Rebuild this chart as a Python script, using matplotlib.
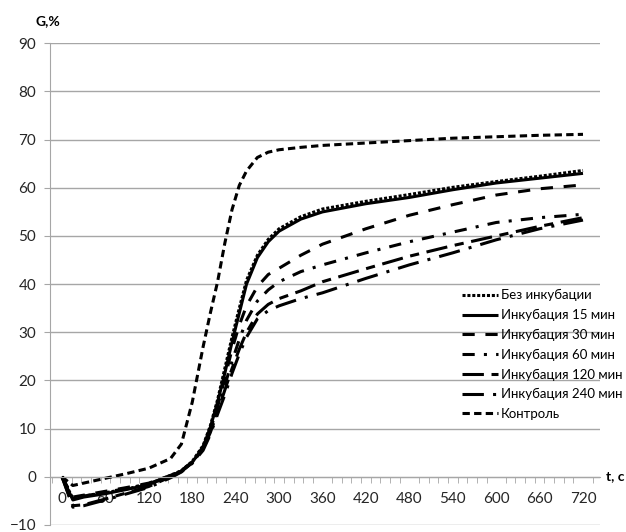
import matplotlib
matplotlib.use('Agg')
import matplotlib.pyplot as plt
from matplotlib.ticker import MultipleLocator

plt.rcParams['font.family'] = ['Lato', 'DejaVu Sans']

# time, s
t = [0, 15, 30, 60, 90, 120, 150, 165, 180, 195, 205, 215, 225, 235, 245, 255, 270,
     285, 300, 330, 360, 420, 480, 540, 600, 660, 720]

bez = [0, -4.5, -4.0, -3.3, -2.5, -1.5, 0.3, 1.3, 3.2, 6.5, 10.6, 16.0, 22.5, 29.0, 35.0,
       40.8, 46.0, 49.3, 51.5, 54.0, 55.6, 57.2, 58.6, 60.1, 61.3, 62.4, 63.6]
inc15 = [0, -4.8, -4.2, -3.5, -2.6, -1.6, 0.2, 1.2, 3.0, 6.2, 10.3, 15.5, 21.5, 28.0, 34.0,
         40.0, 45.5, 48.8, 51.0, 53.5, 55.0, 56.7, 58.0, 59.6, 61.0, 62.0, 63.0]
inc30 = [0, -4.2, -3.8, -3.0, -2.2, -1.3, 0.3, 1.3, 3.1, 6.2, 9.8, 14.5, 20.5, 26.5, 31.5,
         35.5, 39.5, 42.0, 43.3, 46.0, 48.3, 51.5, 54.3, 56.5, 58.5, 59.8, 60.6]
inc60 = [0, -4.5, -4.0, -3.2, -2.4, -1.4, 0.2, 1.2, 3.0, 6.0, 9.5, 14.0, 19.0, 24.0, 28.5,
         32.5, 36.5, 38.8, 40.5, 42.6, 44.0, 46.5, 48.8, 50.8, 52.8, 53.8, 54.5]
inc120 = [0, -6.0, -5.8, -4.6, -3.3, -2.0, 0.0, 1.1, 2.9, 5.8, 9.2, 13.5, 18.0, 22.5, 26.5,
          30.0, 33.8, 35.8, 37.0, 38.6, 40.5, 43.2, 45.8, 48.0, 50.0, 52.0, 53.8]
inc240 = [0, -6.3, -6.0, -4.8, -3.5, -2.2, -0.2, 1.0, 2.8, 5.5, 8.8, 13.0, 17.0, 21.5, 25.5,
          29.0, 32.8, 34.5, 35.5, 37.0, 38.2, 41.2, 44.0, 46.5, 49.2, 51.5, 53.3]
control = [0, -1.8, -1.3, -0.3, 0.7, 1.8, 3.8, 6.8, 15.5, 27.0, 34.0, 40.5, 48.5, 55.5, 60.5,
           63.5, 66.3, 67.4, 67.9, 68.4, 68.8, 69.3, 69.8, 70.3, 70.6, 70.9, 71.1]

labels = ['Без инкубации', 'Инкубация 15 мин', 'Инкубация 30 мин', 'Инкубация 60 мин',
          'Инкубация 120 мин', 'Инкубация 240 мин', 'Контроль']
series = [bez, inc15, inc30, inc60, inc120, inc240, control]
styles = [(0, (1, 0.6)),
          '-',
          (0, (4, 3.5)),
          (0, (4, 3, 1, 3)),
          (0, (7, 2.5, 3, 2.5)),
          (0, (7, 3, 1, 3)),
          (0, (2.4, 1.4))]

fig = plt.figure(figsize=(6.26, 5.32), dpi=100)
ax = fig.add_axes([50 / 626, 1 - 525 / 532, 550 / 626, (525 - 43.3) / 532])

for y, lab, ls in zip(series, labels, styles):
    ax.plot(t, y, color='black', lw=2.2, linestyle=ls, label=lab,
            dash_capstyle='butt', solid_capstyle='butt')

ax.set_xlim(-16.6, 743.5)
ax.set_ylim(-10, 90)
ax.yaxis.set_major_locator(MultipleLocator(10))
ax.xaxis.set_major_locator(MultipleLocator(60))
ax.xaxis.set_minor_locator(MultipleLocator(40 / 3))
ax.grid(axis='y', color='#a6a6a6', lw=1)
ax.set_axisbelow(True)

for s in ['top', 'right']:
    ax.spines[s].set_visible(False)
ax.spines['left'].set_color('#a6a6a6')
ax.spines['bottom'].set_color('#a6a6a6')
ax.spines['bottom'].set_position(('data', 0))

ax.tick_params(axis='y', length=4, color='#a6a6a6', pad=6, labelsize=11, labelcolor='#262626')
ax.tick_params(axis='x', which='major', length=0, pad=11, labelsize=11, labelcolor='#262626')
ax.tick_params(axis='x', which='minor', length=4, color='#a6a6a6', direction='out')

fig.text(35 / 626, 1 - 21 / 532, 'G,%', fontsize=10, fontweight='bold', va='center', ha='left')
fig.text(606 / 626, 1 - 476 / 532, 't, c', fontsize=10, fontweight='bold', va='center', ha='left')

ax.legend(loc='upper left', bbox_to_anchor=(457 / 626, 1 - 284 / 532),
          bbox_transform=fig.transFigure, frameon=False, fontsize=9.5,
          handlelength=2.7, handletextpad=0.2, labelspacing=0.58, borderaxespad=0)

fig.savefig('out.png', dpi=100)
